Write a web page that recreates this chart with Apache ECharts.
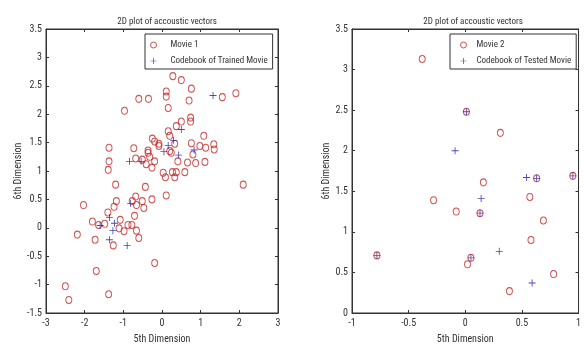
<!DOCTYPE html>
<html>
<head>
<meta charset="utf-8">
<script src="https://cdn.jsdelivr.net/npm/echarts@6/dist/echarts.min.js"></script>
<style>
  html, body { margin: 0; padding: 0; background: #fff; }
  #chart { width: 584px; height: 349px; }
</style>
</head>
<body>
<div id="chart"></div>
<script>
// 左图：Movie 1 的声学向量
var movie1Points = [
  [0.28, 2.67], [0.50, 2.60], [0.76, 2.45], [0.11, 2.40], [0.11, 2.31], [-0.60, 2.27],
  [-0.35, 2.27], [0.70, 2.24], [1.56, 2.30], [1.91, 2.37], [-0.97, 2.06], [0.16, 2.11],
  [0.74, 1.94], [0.74, 1.87], [0.50, 1.87], [0.37, 1.79], [0.16, 1.70], [0.20, 1.62],
  [1.08, 1.62], [-0.25, 1.57], [-0.19, 1.52], [-0.08, 1.48], [-0.08, 1.44], [0.33, 1.48],
  [0.76, 1.49], [0.98, 1.44], [1.13, 1.41], [1.34, 1.47], [1.35, 1.38], [-1.37, 1.41],
  [-0.73, 1.40], [-0.36, 1.36], [-0.36, 1.32], [-0.32, 1.25], [-0.19, 1.17], [-0.41, 1.12],
  [-0.68, 1.22], [-0.51, 1.20], [0.20, 1.35], [0.24, 1.32], [0.41, 1.17], [0.66, 1.15],
  [0.80, 1.29], [0.87, 1.14], [1.11, 1.16], [-1.37, 1.17], [-1.39, 1.02], [-0.26, 1.06],
  [0.03, 0.97], [0.09, 0.89], [0.27, 0.98], [0.37, 0.98], [0.33, 0.89], [0.59, 0.98],
  [2.10, 0.76], [-1.20, 0.76], [-0.43, 0.72], [0.11, 0.57], [-0.26, 0.50], [-0.68, 0.55],
  [-0.51, 0.47], [-0.47, 0.35], [-0.66, 0.40], [-0.77, 0.47], [-1.18, 0.47], [-1.24, 0.37],
  [-2.03, 0.40], [-1.40, 0.27], [-0.71, 0.21], [-1.08, 0.14], [-1.80, 0.11], [-1.64, 0.05],
  [-1.48, 0.07], [-1.11, -0.01], [-0.98, -0.06], [-0.88, 0.05], [-0.78, 0.05], [-0.66, -0.05],
  [-0.60, -0.18], [-2.19, -0.12], [-1.73, -0.21], [-1.26, -0.31], [-0.19, -0.62], [-1.70, -0.76],
  [-2.50, -1.03], [-1.38, -1.17], [-2.41, -1.27]
]
var trainedCodebook = [
  [1.32, 2.33], [0.50, 1.73], [0.30, 1.54], [0.16, 1.45], [0.05, 1.34], [0.43, 1.28],
  [0.83, 1.37], [-0.84, 1.17], [-0.54, 1.17], [-0.81, 0.43], [-1.36, 0.18], [-1.23, 0.08],
  [-1.27, -0.05], [-1.60, 0.04], [-1.36, -0.21], [-0.90, -0.31]
]
// 右图：Movie 2
var movie2Points = [
  [-0.38, 3.13], [0.01, 2.48], [0.31, 2.22], [0.95, 1.69], [0.63, 1.66], [0.16, 1.61],
  [0.57, 1.43], [-0.28, 1.39], [-0.08, 1.25], [0.13, 1.23], [0.69, 1.14], [0.58, 0.90],
  [-0.78, 0.71], [0.05, 0.68], [0.02, 0.60], [0.78, 0.48], [0.39, 0.27]
]
var testedCodebook = [
  [0.01, 2.48], [-0.09, 2.00], [0.95, 1.69], [0.54, 1.67], [0.63, 1.66], [0.14, 1.41],
  [0.13, 1.23], [0.30, 0.76], [-0.78, 0.71], [0.05, 0.68], [0.59, 0.37]
]
var seriesNames = ['Movie 1', 'Codebook of Trained Movie', 'Movie 2', 'Codebook of Tested Movie']

var FONT = "'Roboto Condensed', 'Liberation Sans', Arial, sans-serif"
var TXT = '#333'
var LINE = '#333'
var RED = '#c62828'
var BLUE = '#1a1aa6'
var PLUS = 'path://M-0.12,-1H0.12V-0.12H1V0.12H0.12V1H-0.12V0.12H-1V-0.12H-0.12Z'

function xAx (grid, min, max, step, top) {
  return {
    type: 'value', gridIndex: grid, min: min, max: max, interval: step,
    position: top ? 'top' : 'bottom',
    name: top ? '' : '5th Dimension', nameLocation: 'middle', nameGap: 21,
    nameTextStyle: { fontFamily: FONT, fontSize: 10, color: TXT },
    axisLine: { onZero: false, lineStyle: { color: LINE, width: 1 } },
    axisTick: { inside: true, length: 3, lineStyle: { color: LINE } },
    axisLabel: { show: !top, fontFamily: FONT, fontSize: 10, color: TXT, margin: 5 },
    splitLine: { show: false }
  }
}
function yAx (grid, min, max, step, right) {
  return {
    type: 'value', gridIndex: grid, min: min, max: max, interval: step,
    position: right ? 'right' : 'left',
    name: right ? '' : '6th Dimension', nameLocation: 'middle', nameGap: 18,
    nameTextStyle: { fontFamily: FONT, fontSize: 10, color: TXT },
    axisLine: { onZero: false, lineStyle: { color: LINE, width: 1 } },
    axisTick: { inside: true, length: 3, lineStyle: { color: LINE } },
    axisLabel: { show: !right, fontFamily: FONT, fontSize: 10, color: TXT, margin: 4 },
    splitLine: { show: false }
  }
}
function circles (name, data, ax) {
  return {
    name: name, type: 'scatter', xAxisIndex: ax, yAxisIndex: ax, data: data,
    symbol: 'circle', symbolSize: [6, 7],
    itemStyle: { color: 'rgba(255,255,255,0)', borderColor: RED, borderWidth: 1 }
  }
}
function pluses (name, data, ax) {
  return {
    name: name, type: 'scatter', xAxisIndex: ax, yAxisIndex: ax, data: data,
    symbol: PLUS, symbolSize: 7,
    itemStyle: { color: BLUE }
  }
}
function legendBox (names, left, padLeft, textPad) {
  return {
    data: names, orient: 'vertical', left: left, top: 34,
    padding: [6, 5, 3, padLeft], itemGap: 6, itemWidth: 16, itemHeight: 6,
    borderColor: LINE, borderWidth: 1, borderRadius: 0, backgroundColor: '#fff',
    selectedMode: false,
    itemStyle: { borderWidth: 1 },
    textStyle: { fontFamily: FONT, fontSize: 9, lineHeight: 10, color: TXT, padding: [0, 0, 0, textPad] }
  }
}

var myChart = echarts.init(document.getElementById('chart'))
myChart.setOption({
  animation: false,
  title: [
    { text: '2D plot of accoustic vectors', left: 162, top: 12, textAlign: 'center',
      textStyle: { fontFamily: FONT, fontSize: 9, fontWeight: 'normal', color: TXT } },
    { text: '2D plot of accoustic vectors', left: 468, top: 12, textAlign: 'center',
      textStyle: { fontFamily: FONT, fontSize: 9, fontWeight: 'normal', color: TXT } }
  ],
  legend: [
    legendBox([seriesNames[0], seriesNames[1]], 145, 5, 4),
    legendBox([seriesNames[2], seriesNames[3]], 450, 10, 0)
  ],
  grid: [
    { left: 46, top: 29, width: 232, height: 289, show: true, borderColor: LINE, borderWidth: 1 },
    { left: 352, top: 29, width: 231, height: 289, show: true, borderColor: LINE, borderWidth: 1 }
  ],
  xAxis: [xAx(0, -3, 3, 1, false), xAx(0, -3, 3, 1, true), xAx(1, -1, 1, 0.5, false), xAx(1, -1, 1, 0.5, true)],
  yAxis: [yAx(0, -1.5, 3.5, 0.5, false), yAx(0, -1.5, 3.5, 0.5, true), yAx(1, 0, 3.5, 0.5, false), yAx(1, 0, 3.5, 0.5, true)],
  series: [
    circles(seriesNames[0], movie1Points, 0),
    pluses(seriesNames[1], trainedCodebook, 0),
    circles(seriesNames[2], movie2Points, 2),
    pluses(seriesNames[3], testedCodebook, 2)
  ]
})
</script>
</body>
</html>
